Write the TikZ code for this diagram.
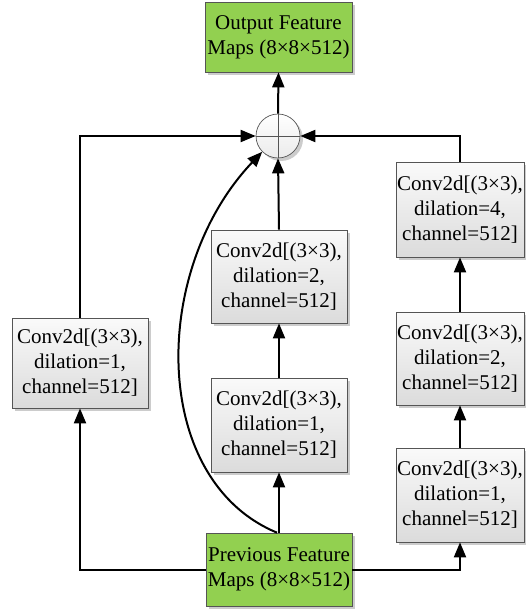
\documentclass[tikz,border=0pt]{standalone}
\usepackage{fontspec}
\setmainfont{Liberation Serif}
\newfontfamily\tnr{Liberation Serif}
\usetikzlibrary{arrows.meta,shadows}
\definecolor{boxgreen}{HTML}{92D050}
\definecolor{edgegray}{HTML}{555555}
\begin{document}
\begin{tikzpicture}[x=1pt,y=-1pt,
  shad/.style={drop shadow={shadow xshift=3pt,shadow yshift=-3pt,fill=black!20,opacity=1}},
  conv/.style={draw=edgegray,line width=0.7pt,top color=black!2,bottom color=black!14,shad,
    align=center,inner sep=0pt,font=\tnr\fontsize{21}{25}\selectfont},
  feat/.style={draw=edgegray,line width=0.7pt,fill=boxgreen,shad,
    align=center,inner sep=0pt,font=\tnr\fontsize{21}{25}\selectfont},
  arr/.style={line width=2pt,-{Triangle[length=15pt,width=12pt]}},
  ln/.style={line width=2pt}]
\useasboundingbox (0,0) rectangle (525,610);
\node[feat,minimum width=147pt,minimum height=70pt] (out) at (278.5,37) {Output Feature\\Maps (8×8×512)};
\node[feat,minimum width=146pt,minimum height=73pt] (in) at (279,569.5) {Previous Feature\\Maps (8×8×512)};
\node[circle,draw=edgegray,line width=0.7pt,top color=white,bottom color=black!8,shad,minimum size=44pt,inner sep=0pt] (sum) at (278,136) {};
\draw[edgegray,line width=0.6pt] (sum.north) -- (sum.south) (sum.west) -- (sum.east);
\node[conv,minimum width=136pt,minimum height=90pt] (lc) at (80,363) {Conv2d[(3×3),\\dilation=1,\\channel=512]};
\node[conv,minimum width=136pt,minimum height=93pt] (m2) at (279,276.5) {Conv2d[(3×3),\\dilation=2,\\channel=512]};
\node[conv,minimum width=136pt,minimum height=94pt] (m1) at (279,425) {Conv2d[(3×3),\\dilation=1,\\channel=512]};
\node[conv,minimum width=128pt,minimum height=95pt] (r3) at (460,209.5) {Conv2d[(3×3),\\dilation=4,\\channel=512]};
\node[conv,minimum width=128pt,minimum height=93pt] (r2) at (460,358.5) {Conv2d[(3×3),\\dilation=2,\\channel=512]};
\node[conv,minimum width=128pt,minimum height=94pt] (r1) at (460,495) {Conv2d[(3×3),\\dilation=1,\\channel=512]};
\draw[arr] (in.west) -| (lc.south);
\draw[arr] (lc.north) |- (sum.west);
\draw[arr] (in.north) -- (m1.south);
\draw[arr] (m1.north) -- (m2.south);
\draw[arr] (m2.north) -- (sum.south);
\draw[arr] (in.east) -| (r1.south);
\draw[arr] (r1.north) -- (r2.south);
\draw[arr] (r2.north) -- (r3.south);
\draw[arr] (r3.north) |- (sum.east);
\draw[arr] (sum.north) -- (out.south);
\draw[arr] ([xshift=-2pt]in.north) .. controls (150,480) and (150,270) .. (sum.225);
\end{tikzpicture}
\end{document}
